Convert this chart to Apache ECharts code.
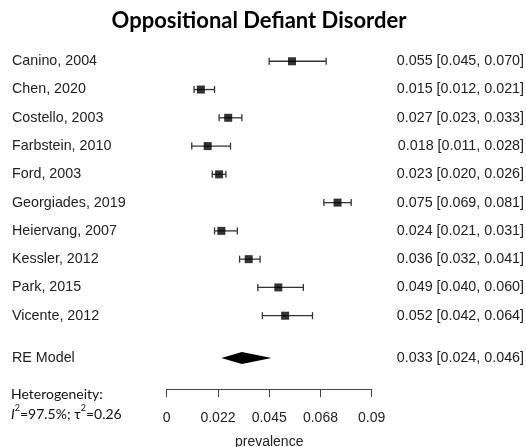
<!DOCTYPE html>
<html>
<head>
<meta charset="utf-8">
<script src="https://cdn.jsdelivr.net/npm/echarts@6/dist/echarts.min.js"></script>
<style>html,body{margin:0;padding:0;background:#fff;}#c{width:526px;height:447px;}</style>
</head>
<body>
<div id="c"></div>
<script>
var studies = ['Canino, 2004','Chen, 2020','Costello, 2003','Farbstein, 2010','Ford, 2003','Georgiades, 2019','Heiervang, 2007','Kessler, 2012','Park, 2015','Vicente, 2012'];
var estimates = [0.055,0.015,0.027,0.018,0.023,0.075,0.024,0.036,0.049,0.052];
var lower = [0.045,0.012,0.023,0.011,0.020,0.069,0.021,0.032,0.040,0.042];
var upper = [0.070,0.021,0.033,0.028,0.026,0.081,0.031,0.041,0.060,0.064];
var rows = [1,2,3,4,5,6,7,8,9,10];
var reLabel = 'RE Model';
var reEst = 0.033, reLow = 0.024, reHigh = 0.046;
var reRow = 11.5;
var tickLabels = ['0','0.022','0.045','0.068','0.09'];

function fmt(v){ return v.toFixed(3); }
var ciText = studies.map(function(s,i){ return fmt(estimates[i]) + ' [' + fmt(lower[i]) + ', ' + fmt(upper[i]) + ']'; });
var reText = fmt(reEst) + ' [' + fmt(reLow) + ', ' + fmt(reHigh) + ']';

var labelData = studies.map(function(s,i){ return [0, rows[i], s, ciText[i]]; });
labelData.push([0, reRow, reLabel, reText]);

var chart = echarts.init(document.getElementById('c'));
var FONT = '"Liberation Sans", Arial, sans-serif';
chart.setOption({
  animation: false,
  title: {
    text: 'Oppositional Defiant Disorder',
    left: 254, top: 5, textAlign: 'center',
    textStyle: { fontFamily: 'Lato', fontWeight: 'bold', fontSize: 22, color: '#000' }
  },
  grid: { left: 166.7, right: 154.3, top: 33, bottom: 57.8, outerBoundsMode: 'none', containLabel: false },
  xAxis: {
    type: 'value', min: 0, max: 0.09, interval: 0.0225, position: 'bottom',
    axisLine: { show: true, onZero: false, lineStyle: { color: '#444', width: 1 } },
    axisTick: { show: true, length: 8, lineStyle: { color: '#444' } },
    splitLine: { show: false },
    axisLabel: { margin: 22, fontFamily: FONT, fontSize: 14, color: '#222',
      formatter: function(v){ var i = Math.round(v/0.0225); return tickLabels[i]; } },
    name: 'prevalence', nameLocation: 'middle', nameGap: 46,
    nameTextStyle: { fontFamily: FONT, fontSize: 14, color: '#222' }
  },
  yAxis: { type: 'value', min: 0, max: 12.6, interval: 6.3, inverse: true, show: false },
  graphic: [{
    type: 'text', left: 11, top: 384,
    style: {
      text: 'Heterogeneity:\n{i|I}{s|2}=97.5%; τ{s|2}=0.26',
      font: '14px Lato', fill: '#111', lineHeight: 20,
      rich: {
        i: { fontFamily: 'Lato', fontSize: 14, fontStyle: 'italic', fill: '#111' },
        s: { fontFamily: 'Lato', fontSize: 9, verticalAlign: 'top', padding: [0,0,3,0], fill: '#111' }
      }
    }
  }],
  series: [
    {
      type: 'custom',
      data: studies.map(function(s,i){ return [lower[i], upper[i], rows[i]]; }),
      renderItem: function(params, api){
        var a = api.coord([api.value(0), api.value(2)]);
        var b = api.coord([api.value(1), api.value(2)]);
        var st = { stroke: '#333', lineWidth: 1.3 };
        var c = 3.5;
        return { type: 'group', children: [
          { type: 'line', shape: { x1: a[0], y1: a[1], x2: b[0], y2: b[1] }, style: st },
          { type: 'line', shape: { x1: a[0], y1: a[1]-c, x2: a[0], y2: a[1]+c }, style: st },
          { type: 'line', shape: { x1: b[0], y1: b[1]-c, x2: b[0], y2: b[1]+c }, style: st }
        ]};
      },
      z: 2
    },
    {
      type: 'scatter',
      data: studies.map(function(s,i){ return [estimates[i], rows[i]]; }),
      symbol: 'rect', symbolSize: 8,
      itemStyle: { color: '#000' }, z: 3
    },
    {
      type: 'custom',
      data: [[reLow, reEst, reHigh, reRow]],
      renderItem: function(params, api){
        var l = api.coord([api.value(0), api.value(3)]);
        var m = api.coord([api.value(1), api.value(3)]);
        var h = api.coord([api.value(2), api.value(3)]);
        var d = 6;
        return { type: 'polygon', shape: { points: [[l[0], l[1]], [m[0], m[1]-d], [h[0], h[1]], [m[0], m[1]+d]] },
          style: { fill: '#000' } };
      }
    },
    {
      type: 'custom',
      data: labelData,
      clip: false,
      renderItem: function(params, api){
        var p = api.coord([0, api.value(1)]);
        var item = labelData[params.dataIndex];
        return { type: 'group', children: [
          { type: 'text', style: { text: item[2], x: 12, y: p[1], textVerticalAlign: 'middle', textAlign: 'left', font: '14.3px ' + FONT, fill: '#222' } },
          { type: 'text', style: { text: item[3], x: 524, y: p[1], textVerticalAlign: 'middle', textAlign: 'right', font: '14.3px ' + FONT, fill: '#222' } }
        ]};
      }
    }
  ]
});
</script>
</body>
</html>
